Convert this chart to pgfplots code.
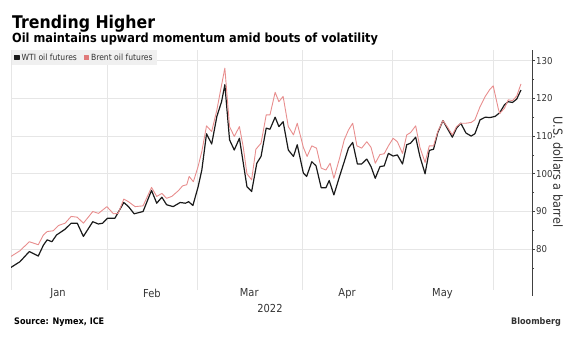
\documentclass[border=0pt]{standalone}
\usepackage{fontspec}
\setmainfont{DejaVu Sans}[FakeStretch=0.9]
\usepackage{pgfplots}
\usepackage{pgfplotstable}
\pgfplotsset{compat=1.18}
\definecolor{brent}{HTML}{E88E8E}
\definecolor{brentleg}{HTML}{E07A7A}
\definecolor{wti}{HTML}{1A1A1A}
\definecolor{gridc}{HTML}{E6E6E6}
\definecolor{txt}{HTML}{333333}
\definecolor{legbg}{HTML}{F0F0F0}

\pgfplotstableread{
x y
0.0 75.2
1.9 76.7
3.9 79.4
5.8 78.2
6.9 81.1
7.7 82.5
8.7 82.0
9.7 83.8
11.5 85.3
12.8 86.9
14.1 86.9
15.4 83.4
17.4 87.3
18.6 86.7
19.5 86.9
20.5 88.2
22.1 88.2
24.0 92.4
25.0 91.3
26.2 89.4
28.1 90.0
29.9 95.6
31.0 92.2
32.1 93.8
33.1 91.8
34.5 91.3
36.0 92.4
37.1 92.2
37.8 92.6
38.7 91.6
39.8 96.5
40.6 101.0
41.6 110.6
42.7 107.9
43.8 115.2
44.8 119.1
45.5 123.6
46.5 109.0
47.5 106.3
48.6 109.4
50.2 96.6
51.2 95.3
52.3 102.8
53.2 104.6
54.3 112.1
55.1 111.8
56.2 115.0
57.0 112.5
57.9 113.8
59.0 106.3
60.1 104.6
60.9 107.7
62.2 100.2
62.9 99.3
64.0 103.2
64.9 102.1
66.0 96.3
67.0 96.3
67.7 98.2
68.7 94.4
69.9 99.3
70.9 103.2
71.8 106.8
72.7 108.3
73.7 102.6
74.6 102.6
75.7 103.9
76.6 101.9
77.5 98.8
78.5 101.9
79.4 102.1
80.3 105.4
81.3 104.7
82.2 105.0
83.3 102.6
84.2 107.7
85.0 108.1
86.1 109.7
87.0 104.6
88.1 100.0
89.0 106.2
89.9 106.5
90.8 110.9
91.9 114.1
92.8 112.1
93.9 109.7
94.8 112.1
95.7 113.4
96.8 110.8
97.9 110.0
98.7 110.6
99.8 114.3
100.9 115.0
101.9 114.9
103.0 115.2
104.0 116.2
105.0 118.3
105.8 119.1
106.7 118.9
107.6 119.8
108.5 122.2
}\wti

\pgfplotstableread{
x y
0.0 78.1
1.9 79.6
3.9 82.0
5.8 81.2
6.9 83.8
7.7 84.7
9.0 84.9
10.1 86.3
11.5 86.9
12.8 88.7
14.1 88.5
15.4 86.9
17.4 90.0
18.6 89.5
20.4 91.3
21.8 89.4
22.8 89.5
24.0 93.3
25.0 92.6
26.4 91.3
28.1 91.5
29.9 96.4
31.0 94.0
32.1 94.8
33.1 93.5
34.2 94.0
35.6 95.5
36.5 96.8
37.4 97.1
37.9 99.3
38.8 97.9
39.8 101.9
40.6 105.9
41.6 112.7
42.7 111.2
43.8 116.9
44.6 122.2
45.5 128.0
46.5 112.5
47.5 109.9
48.6 112.5
49.4 107.2
50.2 100.0
51.2 98.4
52.1 106.5
53.2 108.1
54.3 115.6
55.1 115.6
56.2 121.6
57.0 119.1
57.9 120.5
59.0 112.5
60.1 110.3
60.9 113.4
62.2 107.0
63.0 104.6
64.0 107.4
65.0 106.8
66.0 101.5
67.0 101.0
67.9 102.8
68.7 98.8
69.9 104.1
70.9 109.0
71.8 111.6
72.7 113.4
73.6 107.4
74.6 106.8
75.7 108.5
76.6 107.0
77.5 102.8
78.5 105.1
79.4 105.3
80.3 107.4
81.3 109.4
82.2 108.5
83.3 105.4
84.2 110.3
85.0 110.9
86.1 112.7
87.0 107.0
88.1 103.0
89.0 107.4
89.9 107.4
90.8 111.2
91.9 114.1
92.8 112.5
93.9 110.3
94.8 112.5
95.7 113.4
96.8 113.4
97.9 113.6
98.7 114.3
99.8 117.8
100.9 120.5
101.9 122.4
102.6 123.3
103.7 117.1
104.0 116.0
105.0 117.4
105.8 119.6
106.7 119.4
107.6 120.6
108.5 123.8
}\brent

\begin{document}
\begin{tikzpicture}[x=1pt,y=1pt]
\path (-11,-61) rectangle (567,287);
\begin{axis}[
  at={(0,0)}, anchor=south west, scale only axis,
  width=521pt, height=237pt,
  xmin=0, xmax=110.85, ymin=70, ymax=132.8,
  axis x line*=bottom, axis y line*=right,
  x axis line style={draw=none},
  y axis line style={draw=black!75, line width=0.6pt},
  xtick={0,20.4,39.6,61.9,81.1,102.6},
  xticklabels={},
  xmajorgrids, ymajorgrids,
  major grid style={gridc, line width=0.6pt},
  xtick style={draw=gridc, line width=0.6pt},
  extra x ticks={10,30,50.7,71.5,91.8},
  extra x tick labels={Jan,Feb,Mar,Apr,May},
  extra x tick style={grid=none, major tick length=0pt},
  xticklabel style={font=\fontsize{11}{12}\selectfont, text=txt, inner sep=0pt, yshift=-1.5pt},
  ytick={80,90,...,130}, minor ytick={75,85,...,125},
  tick align=outside, major tick length=3pt, minor tick length=2pt,
  ytick style={draw=black!75, line width=0.6pt},
  yticklabel style={font=\fontsize{9.5}{10}\selectfont, text=txt, inner xsep=1pt},
  /pgf/number format/assume math mode=true,
  legend columns=2,
  legend cell align=left,
  legend style={at={(rel axis cs:0,1)}, anchor=north west, xshift=1pt,
    fill=legbg, draw=none, font=\fontsize{8.5}{9}\selectfont, text=txt,
    inner xsep=2pt, inner ysep=1.5pt,
    /tikz/every even column/.append style={column sep=5pt}},
]
\addplot[wti, line width=1.2pt, line join=round,
  legend image code/.code={\fill[wti] (0pt,-2.2pt) rectangle (4.2pt,2pt);}]
  table[x=x, y=y] {\wti};
\addlegendentry{WTI oil futures}
\addplot[brent, line width=0.9pt, line join=round,
  legend image code/.code={\fill[brentleg] (0pt,-2.2pt) rectangle (4.2pt,2pt);}]
  table[x=x, y=y] {\brent};
\addlegendentry{Brent oil futures}
\end{axis}
\draw[black!75, line width=0.6pt] (521,0) -- (521,-9);
\node[anchor=base west, inner sep=0pt, font=\bfseries\fontsize{17.5}{18}\selectfont] at (1,258.7) {Trending Higher};
\node[anchor=base west, inner sep=0pt, font=\bfseries\fontsize{12.6}{13}\selectfont] at (1,244.3) {Oil maintains upward momentum amid bouts of volatility};
\node[rotate=-90, inner sep=0pt, font=\fontsize{12.5}{13}\selectfont, text=txt] at (547,115) {U.S. dollars a barrel};
\node[anchor=base, inner sep=0pt, font=\fontsize{11}{12}\selectfont, text=txt] at (259,-25) {2022};
\node[anchor=base west, inner sep=0pt, font=\bfseries\fontsize{9}{10}\selectfont] at (3,-37) {Source: Nymex, ICE};
\node[anchor=base west, inner sep=0pt, font=\bfseries\fontsize{9}{10}\selectfont, text=txt] at (500,-37) {Bloomberg};
\end{tikzpicture}
\end{document}
